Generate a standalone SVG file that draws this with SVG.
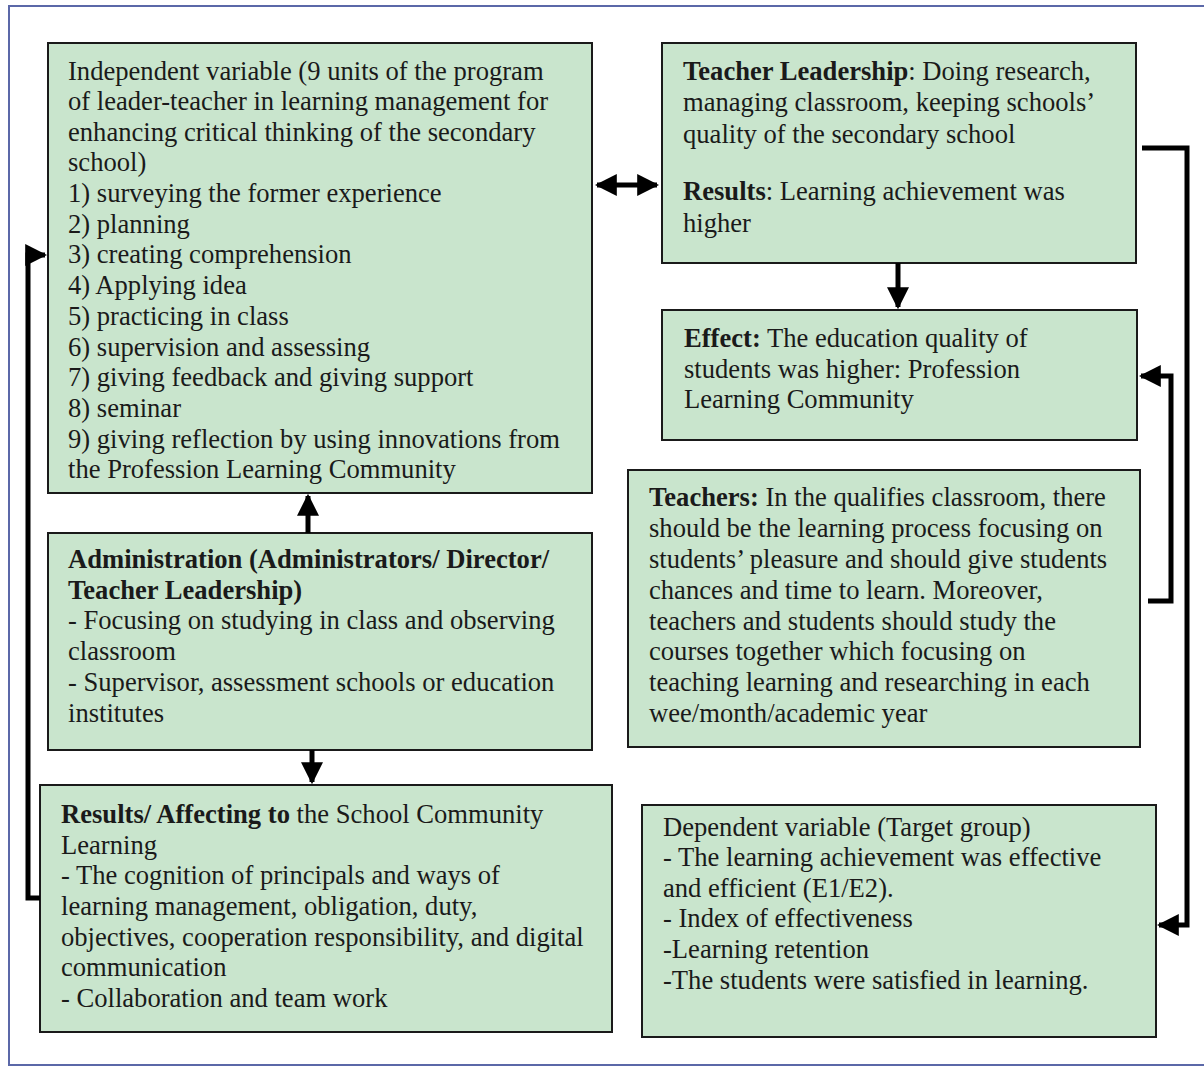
<svg xmlns="http://www.w3.org/2000/svg" width="1204" height="1067" viewBox="0 0 1204 1067">
<defs>
<style>
.box{fill:#c9e5cd;stroke:#1a1a1a;stroke-width:2}
text{font-family:"Liberation Serif","Times New Roman",serif;font-size:26.6px;fill:#1a1a1a}
.b{font-weight:bold}
.c{fill:none;stroke:#000;stroke-width:5}
</style>
<marker id="ah" viewBox="0 0 10 10" refX="9" refY="5" markerWidth="4.4" markerHeight="4.4" orient="auto-start-reverse" markerUnits="strokeWidth">
<path d="M0,0 L10,5 L0,10 z" fill="#000"/>
</marker>
</defs>
<rect x="0" y="0" width="1204" height="1067" fill="#fff"/>
<rect x="9" y="6" width="1200" height="1059" fill="none" stroke="#5b68a8" stroke-width="2"/>

<g id="independent">
<rect class="box" x="48" y="43" width="544" height="450"/>
<text x="68" y="80">Independent variable (9 units of the program</text>
<text x="68" y="110">of leader-teacher in learning management for</text>
<text x="68" y="141">enhancing critical thinking of the secondary</text>
<text x="68" y="171">school)</text>
<text x="68" y="202">1) surveying the former experience</text>
<text x="68" y="233">2) planning</text>
<text x="68" y="263">3) creating comprehension</text>
<text x="68" y="294">4) Applying idea</text>
<text x="68" y="325">5) practicing in class</text>
<text x="68" y="356">6) supervision and assessing</text>
<text x="68" y="386">7) giving feedback and giving support</text>
<text x="68" y="417">8) seminar</text>
<text x="68" y="448">9) giving reflection by using innovations from</text>
<text x="68" y="478">the Profession Learning Community</text>
</g>

<g id="teacher-leadership">
<rect class="box" x="662" y="43" width="474" height="220"/>
<text x="683" y="80"><tspan class="b">Teacher Leadership</tspan>: Doing research,</text>
<text x="683" y="111">managing classroom, keeping schools’</text>
<text x="683" y="143">quality of the secondary school</text>
<text x="683" y="200"><tspan class="b">Results</tspan>: Learning achievement was</text>
<text x="683" y="232">higher</text>
</g>

<g id="effect">
<rect class="box" x="662" y="310" width="475" height="130"/>
<text x="684" y="347"><tspan class="b">Effect:</tspan> The education quality of</text>
<text x="684" y="378">students was higher: Profession</text>
<text x="684" y="408">Learning Community</text>
</g>

<g id="teachers">
<rect class="box" x="628" y="470" width="512" height="277"/>
<text x="649" y="506"><tspan class="b">Teachers:</tspan> In the qualifies classroom, there</text>
<text x="649" y="537">should be the learning process focusing on</text>
<text x="649" y="568">students’ pleasure and should give students</text>
<text x="649" y="599">chances and time to learn. Moreover,</text>
<text x="649" y="630">teachers and students should study the</text>
<text x="649" y="660">courses together which focusing on</text>
<text x="649" y="691">teaching learning and researching in each</text>
<text x="649" y="722">wee/month/academic year</text>
</g>

<g id="administration">
<rect class="box" x="48" y="533" width="544" height="217"/>
<text x="68" y="568" class="b">Administration (Administrators/ Director/</text>
<text x="68" y="599" class="b">Teacher Leadership)</text>
<text x="68" y="629">- Focusing on studying in class and observing</text>
<text x="68" y="660">classroom</text>
<text x="68" y="691">- Supervisor, assessment schools or education</text>
<text x="68" y="722">institutes</text>
</g>

<g id="results">
<rect class="box" x="40" y="785" width="572" height="247"/>
<text x="61" y="823"><tspan class="b">Results/ Affecting to</tspan> the School Community</text>
<text x="61" y="854">Learning</text>
<text x="61" y="884">- The cognition of principals and ways of</text>
<text x="61" y="915">learning management, obligation, duty,</text>
<text x="61" y="946">objectives, cooperation responsibility, and digital</text>
<text x="61" y="976">communication</text>
<text x="61" y="1007">- Collaboration and team work</text>
</g>

<g id="dependent">
<rect class="box" x="642" y="805" width="514" height="232"/>
<text x="663" y="836">Dependent variable (Target group)</text>
<text x="663" y="866">- The learning achievement was effective</text>
<text x="663" y="897">and efficient (E1/E2).</text>
<text x="663" y="927">- Index of effectiveness</text>
<text x="663" y="958">-Learning retention</text>
<text x="663" y="989">-The students were satisfied in learning.</text>
</g>

<g id="connectors">
<path class="c" d="M597,185 H657" marker-start="url(#ah)" marker-end="url(#ah)"/>
<path class="c" d="M898,263 V307" marker-end="url(#ah)"/>
<path class="c" d="M308,533 V496" marker-end="url(#ah)"/>
<path class="c" d="M312,750 V782" marker-end="url(#ah)"/>
<path class="c" d="M40,898 H28 V255 H45" marker-end="url(#ah)"/>
<path class="c" d="M1142,148 H1187 V925 H1159" marker-end="url(#ah)"/>
<path class="c" d="M1148,601 H1171 V376 H1141" marker-end="url(#ah)"/>
</g>
</svg>
